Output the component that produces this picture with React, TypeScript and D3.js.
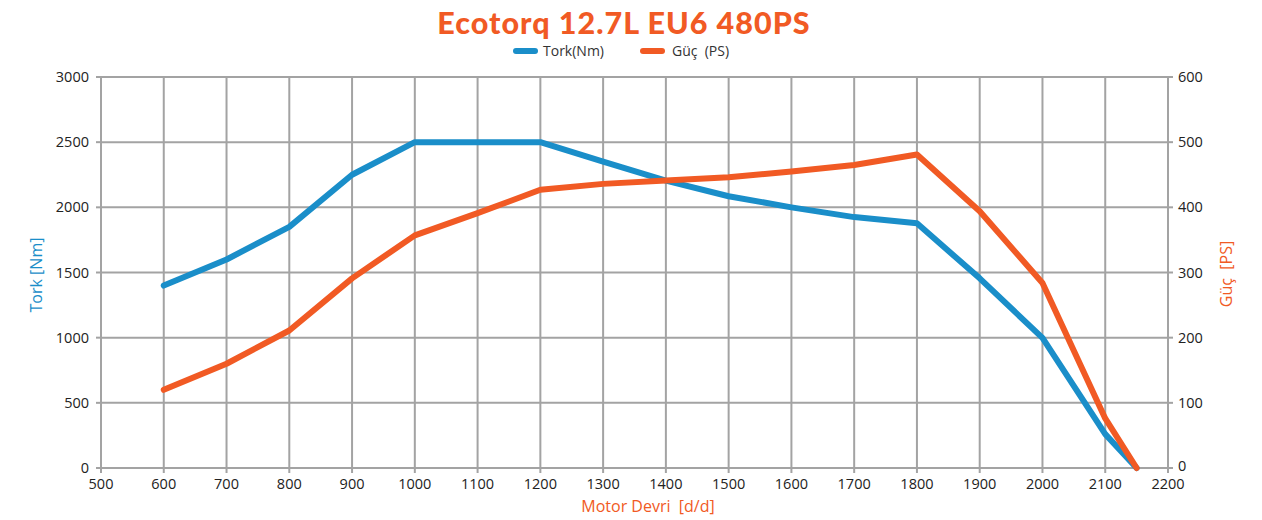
import React from "react";
import * as d3 from "d3";

const rpm = [600, 700, 800, 900, 1000, 1100, 1200, 1300, 1400, 1500, 1600, 1700, 1800, 1900, 2000, 2100, 2150];
const torque = [1400, 1600, 1850, 2250, 2500, 2500, 2500, 2350, 2205, 2085, 2000, 1925, 1878, 1455, 998, 260, 0];
const power = [120, 160, 211, 291, 357, 391, 427, 436, 441, 446, 455, 465, 481, 394, 284, 76, 0];
const xTicks = [500, 600, 700, 800, 900, 1000, 1100, 1200, 1300, 1400, 1500, 1600, 1700, 1800, 1900, 2000, 2100, 2200];
const torqueTicks = [0, 500, 1000, 1500, 2000, 2500, 3000];
const powerTicks = [0, 100, 200, 300, 400, 500, 600];

const W = 1262, H = 520;
const L = 101, R = 1168, T = 77, B = 468;
const BLUE = "#1a8ec9";
const ORANGE = "#f15a24";
const GRID = "#a3a3a3";
const FONT = "'Open Sans', 'Noto Sans', sans-serif";

export default function App() {
  const x = d3.scaleLinear().domain([500, 2200]).range([L, R]);
  const yT = d3.scaleLinear().domain([0, 3000]).range([B, T]);
  const yP = d3.scaleLinear().domain([0, 600]).range([B, T]);
  const lineT = d3.line<number>().x((_, i) => x(rpm[i])).y((d) => yT(d));
  const lineP = d3.line<number>().x((_, i) => x(rpm[i])).y((d) => yP(d));

  return (
    <svg width={W} height={H} style={{ position: "absolute", left: 0, top: 0, background: "#fff" }} fontFamily={FONT}>
      <text x={624} y={34} textAnchor="middle" fill={ORANGE} fontSize={30.5} fontWeight={900} fontFamily="Lato, 'Open Sans', sans-serif" letterSpacing={1}>
        Ecotorq 12.7L EU6 480PS
      </text>
      <line x1={516} x2={535} y1={51} y2={51} stroke={BLUE} strokeWidth={6} strokeLinecap="round" />
      <text x={543} y={56} fontSize={14} fill="#333">Tork(Nm)</text>
      <line x1={643} x2={662} y1={51} y2={51} stroke={ORANGE} strokeWidth={6} strokeLinecap="round" />
      <text x={672} y={56} fontSize={14} fill="#333" xmlSpace="preserve">Güç  (PS)</text>

      {xTicks.filter((v) => v > 500 && v < 2200).map((v) => (
        <line key={"gx" + v} x1={x(v)} x2={x(v)} y1={T} y2={B} stroke={GRID} strokeWidth={2} />
      ))}
      {torqueTicks.filter((v) => v > 0).map((v) => (
        <line key={"gy" + v} x1={L} x2={R} y1={yT(v)} y2={yT(v)} stroke={GRID} strokeWidth={2} />
      ))}
      <line x1={L} x2={L} y1={T} y2={B} stroke={GRID} strokeWidth={2} />
      <line x1={R} x2={R} y1={T} y2={B} stroke={GRID} strokeWidth={2} />
      <line x1={L - 5} x2={R + 5} y1={B} y2={B} stroke={GRID} strokeWidth={2} />
      {xTicks.map((v) => (
        <line key={"tx" + v} x1={x(v)} x2={x(v)} y1={B} y2={B + 5} stroke={GRID} strokeWidth={2} />
      ))}
      {torqueTicks.map((v) => (
        <line key={"tl" + v} x1={L - 5} x2={L} y1={yT(v)} y2={yT(v)} stroke={GRID} strokeWidth={2} />
      ))}
      {powerTicks.map((v) => (
        <line key={"tr" + v} x1={R} x2={R + 5} y1={yP(v)} y2={yP(v)} stroke={GRID} strokeWidth={2} />
      ))}

      {xTicks.map((v) => (
        <text key={"lx" + v} x={x(v)} y={489} textAnchor="middle" fontSize={14.5} fill="#222">{v}</text>
      ))}
      {torqueTicks.map((v) => (
        <text key={"ll" + v} x={89} y={yT(v) + 5} textAnchor="end" fontSize={14.5} fill="#222">{v}</text>
      ))}
      {powerTicks.map((v) => (
        <text key={"lr" + v} x={1178} y={yP(v) + (v === 0 ? 3 : 5)} textAnchor="start" fontSize={14.5} fill="#222">{v}</text>
      ))}

      <text transform="translate(42,275) rotate(-90)" textAnchor="middle" fontSize={16} fill={BLUE}>Tork [Nm]</text>
      <text transform="translate(1232,274) rotate(-90)" textAnchor="middle" fontSize={16} fill={ORANGE} xmlSpace="preserve">Güç  [PS]</text>
      <text x={648} y={512} textAnchor="middle" fontSize={16} fill={ORANGE} xmlSpace="preserve">Motor Devri  [d/d]</text>

      <path d={lineT(torque) || ""} fill="none" stroke={BLUE} strokeWidth={6} strokeLinejoin="round" strokeLinecap="round" />
      <path d={lineP(power) || ""} fill="none" stroke={ORANGE} strokeWidth={6} strokeLinejoin="round" strokeLinecap="round" />
    </svg>
  );
}
